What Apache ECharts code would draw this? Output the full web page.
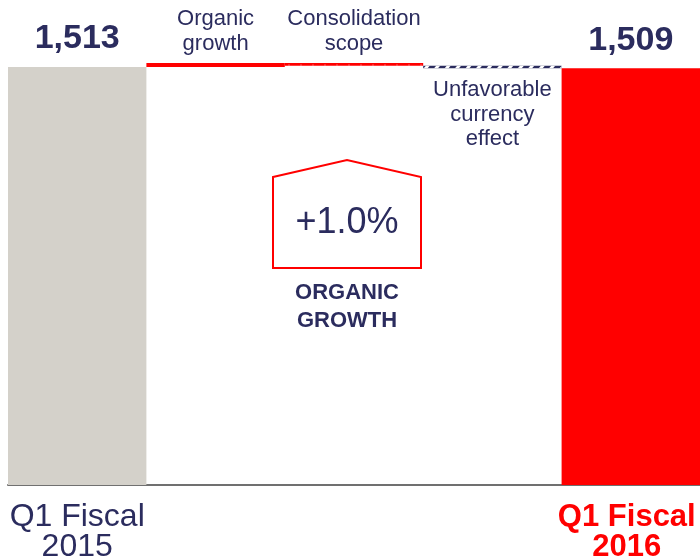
<!DOCTYPE html>
<html>
<head>
<meta charset="utf-8">
<script src="https://cdn.jsdelivr.net/npm/echarts@6/dist/echarts.min.js"></script>
<style>
  html, body { margin: 0; padding: 0; background: #fff; }
  #main { width: 700px; height: 559px; }
</style>
</head>
<body>
<div id="main"></div>
<script>
// Waterfall: Q1 Fiscal 2015 -> Q1 Fiscal 2016
const categories = ['Q1 Fiscal\n2015', 'Organic growth', 'Consolidation scope', 'Unfavorable currency effect', 'Q1 Fiscal\n2016'];
const kinds = ['total', 'step', 'step', 'step', 'total'];
const values = [1513, 15, -10, -9, 1509];
const stepLabels = ['', 'Organic\ngrowth', 'Consolidation\nscope', 'Unfavorable\ncurrency\neffect', ''];
const organicText = '+1.0%';
const organicCaption = 'ORGANIC\nGROWTH';

const NAVY = '#2b2c5e';
const RED = '#ff0000';
const GREY = '#d4d1ca';
const FONT = '"Liberation Sans", Arial, sans-serif';

// --- build waterfall bases/heights ---
const baseData = [];
const deltaData = [];
let running = 0;
values.forEach((v, i) => {
    if (kinds[i] === 'total') {
        running = v;
        baseData.push(0);
        deltaData.push({ value: v, raw: v });
    } else {
        const from = running;
        running = from + v;
        baseData.push(Math.min(from, running));
        deltaData.push({ value: Math.abs(v), raw: v });
    }
});

const itemStyles = [
    { color: GREY },
    { color: RED },
    { color: RED, decal: { symbol: 'circle', symbolSize: 0.5, color: '#ffffff', dashArrayX: [2, 10], dashArrayY: [2, 30] } },
    { color: NAVY, decal: { symbol: 'rect', symbolSize: 1, color: '#ffffff', dashArrayX: [3, 5], dashArrayY: [30, 0], rotation: 0.7 } },
    { color: RED }
];

const totalLabel = {
    show: true, position: 'top', distance: 11,
    fontFamily: FONT, fontSize: 34, fontWeight: 'bold', color: NAVY,
    formatter: p => p.data.raw.toLocaleString('en-US')
};

deltaData.forEach((d, i) => {
    d.itemStyle = itemStyles[i];
    if (kinds[i] === 'total') {
        d.label = totalLabel;
    } else {
        const below = i === 3;
        d.label = {
            show: true,
            position: below ? 'bottom' : 'top',
            distance: below ? 10 : 7,
            fontFamily: FONT, fontSize: 22, lineHeight: 24.5, color: NAVY,
            formatter: stepLabels[i]
        };
    }
});

const chart = echarts.init(document.getElementById('main'));
chart.setOption({
    animation: false,
    grid: { left: 8, right: 0, top: 43, bottom: 74, outerBoundsMode: 'none' },
    xAxis: {
        type: 'category',
        data: categories,
        axisLine: { lineStyle: { color: '#707070', width: 2 } },
        axisTick: { show: false },
        axisLabel: {
            interval: 0,
            margin: 17,
            formatter: (val, idx) => {
                if (kinds[idx] !== 'total') return '';
                const lines = val.split('\n');
                const tag = idx === 0 ? 'a' : 'b';
                return lines.map(l => '{' + tag + '|' + l + '}').join('\n');
            },
            rich: {
                a: { fontFamily: FONT, fontSize: 32, lineHeight: 30, color: NAVY },
                b: { fontFamily: FONT, fontSize: 31, lineHeight: 30, color: RED, fontWeight: 'bold', padding: [0, 8, 0, 0] }
            }
        }
    },
    yAxis: {
        type: 'value', min: 0, max: 1600, show: false,
        splitLine: { show: false }
    },
    series: [
        {
            type: 'bar', stack: 'wf', data: baseData,
            itemStyle: { color: 'transparent' },
            barCategoryGap: 0, silent: true
        },
        {
            type: 'bar', stack: 'wf', data: deltaData,
            barCategoryGap: 0
        }
    ],
    graphic: [
        {
            type: 'polygon',
            shape: { points: [[273, 177], [347, 160], [421, 177], [421, 268], [273, 268]] },
            style: { fill: '#fff', stroke: RED, lineWidth: 2 }
        },
        {
            type: 'text', x: 347, y: 223,
            style: { text: organicText, fill: NAVY, font: '36px ' + FONT, align: 'center', verticalAlign: 'middle' }
        },
        {
            type: 'text', x: 347, y: 307,
            style: { text: organicCaption, fill: NAVY, font: 'bold 22px ' + FONT, lineHeight: 28.5, align: 'center', verticalAlign: 'middle' }
        }
    ]
});
</script>
</body>
</html>
